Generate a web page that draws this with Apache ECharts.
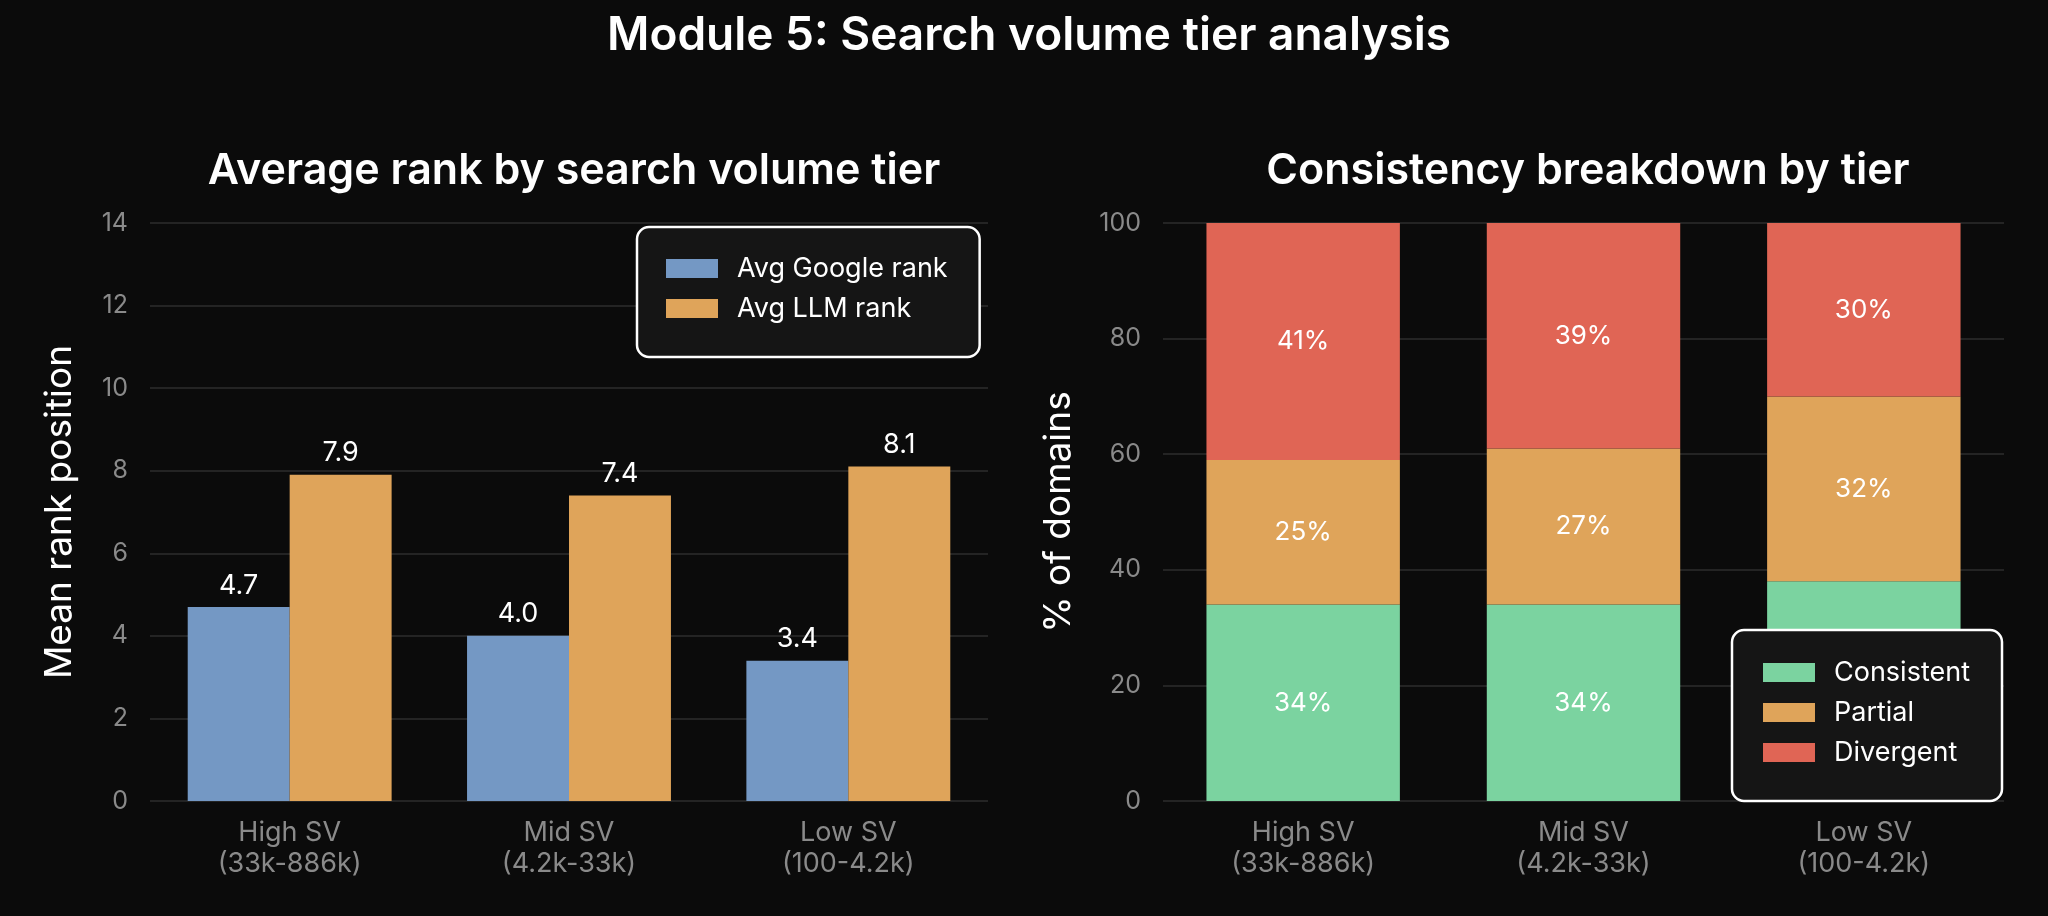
<!DOCTYPE html>
<html>
<head>
<meta charset="utf-8">
<script src="https://cdn.jsdelivr.net/npm/echarts@6/dist/echarts.min.js"></script>
<style>
  html, body { margin: 0; padding: 0; background: #0b0b0b; }
  #chart { width: 2048px; height: 916px; }
</style>
</head>
<body>
<div id="chart"></div>
<script>
// Module 5: rango medio y consistencia por nivel de volumen de búsqueda
const tiers = ['High SV\n(33k-886k)', 'Mid SV\n(4.2k-33k)', 'Low SV\n(100-4.2k)'];

const googleRank = [4.7, 4.0, 3.4];
const llmRank    = [7.9, 7.4, 8.1];

const consistent = [34, 34, 38];
const partial    = [25, 27, 32];
const divergent  = [41, 39, 30];

const rankTicks = { min: 0, max: 14, interval: 2 };
const pctTicks  = { min: 0, max: 100, interval: 20 };

const FONT = 'Inter, "Noto Sans", sans-serif';
const GRID_LINE = '#242424';
const TICK_TXT = '#8a8a8a';

const chart = echarts.init(document.getElementById('chart'), null, { renderer: 'canvas' });

const axisCommonX = {
  type: 'category',
  data: tiers,
  axisLine: { show: false },
  axisTick: { show: false },
  axisLabel: { color: TICK_TXT, fontFamily: FONT, fontSize: 27, lineHeight: 31, margin: 16 },
};

const axisCommonY = {
  type: 'value',
  nameLocation: 'middle',
  nameTextStyle: { color: '#ffffff', fontFamily: FONT, fontSize: 37 },
  axisLine: { show: false },
  axisTick: { show: false },
  axisLabel: { color: TICK_TXT, fontFamily: FONT, fontSize: 25, margin: 22 },
  splitLine: { lineStyle: { color: GRID_LINE, width: 2 } },
};

const legendBox = {
  orient: 'vertical',
  backgroundColor: '#151515',
  borderColor: '#ffffff',
  borderWidth: 2.5,
  borderRadius: 12,
  itemWidth: 52,
  itemHeight: 19,
  itemGap: 13,
  icon: 'rect',
  textStyle: { color: '#ffffff', fontFamily: FONT, fontSize: 27, padding: [0, 0, 0, 14] },
};

const pctLabel = {
  show: true,
  position: 'inside',
  color: '#ffffff',
  fontFamily: FONT,
  fontSize: 26,
  formatter: p => `${p.value}%`,
};

const rankLabel = {
  show: true,
  position: 'top',
  distance: 8,
  color: '#ffffff',
  fontFamily: FONT,
  fontSize: 27,
  formatter: p => p.value.toFixed(1),
};

chart.setOption({
  backgroundColor: '#0b0b0b',
  animation: false,
  title: [
    { text: 'Module 5: Search volume tier analysis', left: 1024, top: 8, textAlign: 'center',
      textStyle: { color: '#ffffff', fontFamily: FONT, fontSize: 46, fontWeight: 600 } },
    { text: 'Average rank by search volume tier', left: 569, top: 145, textAlign: 'center',
      textStyle: { color: '#ffffff', fontFamily: FONT, fontSize: 43, fontWeight: 600 } },
    { text: 'Consistency breakdown by tier', left: 1583, top: 145, textAlign: 'center',
      textStyle: { color: '#ffffff', fontFamily: FONT, fontSize: 43, fontWeight: 600 } },
  ],
  legend: [
    { ...legendBox, data: ['Avg Google rank', 'Avg LLM rank'],
      left: 637, top: 227, padding: [28, 32, 35, 29] },
    { ...legendBox, data: ['Consistent', 'Partial', 'Divergent'],
      right: 46, top: 630, padding: [29, 32, 35, 31] },
  ],
  grid: [
    { left: 150, right: 1060, top: 223, bottom: 115 },
    { left: 1163, right: 44, top: 223, bottom: 115 },
  ],
  xAxis: [
    { ...axisCommonX, gridIndex: 0 },
    { ...axisCommonX, gridIndex: 1 },
  ],
  yAxis: [
    { ...axisCommonY, gridIndex: 0, ...rankTicks, name: 'Mean rank position', nameGap: 72 },
    { ...axisCommonY, gridIndex: 1, ...pctTicks, name: '% of domains', nameGap: 86 },
  ],
  series: [
    {
      name: 'Avg Google rank', type: 'bar', xAxisIndex: 0, yAxisIndex: 0,
      data: googleRank, barCategoryGap: '27%', barGap: '0%',
      itemStyle: { color: '#7498c4' }, label: rankLabel,
    },
    {
      name: 'Avg LLM rank', type: 'bar', xAxisIndex: 0, yAxisIndex: 0,
      data: llmRank, barCategoryGap: '27%', barGap: '0%',
      itemStyle: { color: '#dfa45a' }, label: rankLabel,
    },
    {
      name: 'Consistent', type: 'bar', stack: 'tier', xAxisIndex: 1, yAxisIndex: 1,
      data: consistent, barWidth: '69%',
      itemStyle: { color: '#7bd3a0' }, label: pctLabel,
    },
    {
      name: 'Partial', type: 'bar', stack: 'tier', xAxisIndex: 1, yAxisIndex: 1,
      data: partial, barWidth: '69%',
      itemStyle: { color: '#dfa45a' }, label: pctLabel,
    },
    {
      name: 'Divergent', type: 'bar', stack: 'tier', xAxisIndex: 1, yAxisIndex: 1,
      data: divergent, barWidth: '69%',
      itemStyle: { color: '#e06555' }, label: pctLabel,
    },
  ],
});
</script>
</body>
</html>
